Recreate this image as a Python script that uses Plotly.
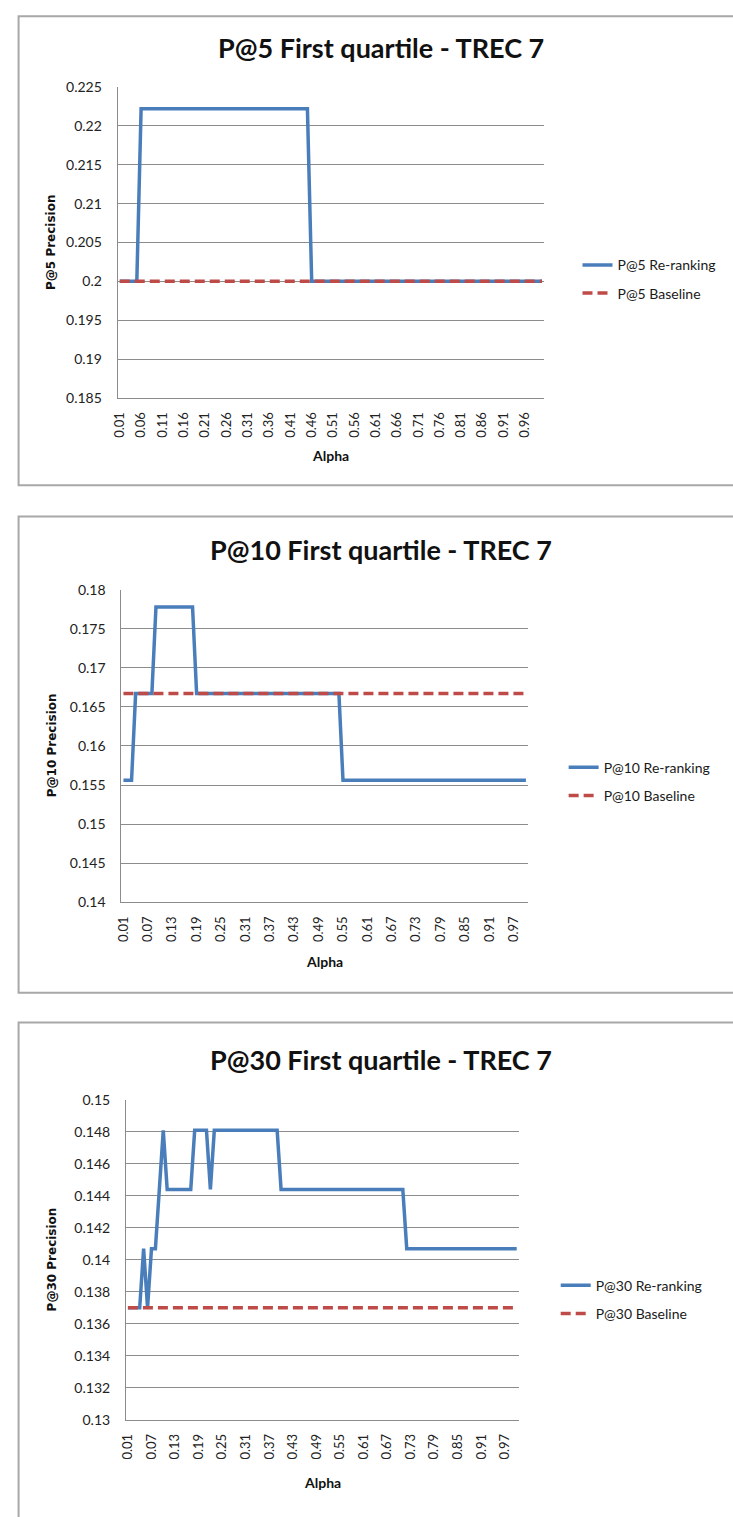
import plotly.graph_objects as go

W, H = 733, 1517

# Alpha categories 0.01 .. 1.00
alpha = [f"{k / 100:.2f}" for k in range(1, 101)]

# P@5 series
p5_rerank = [0.2] * 5 + [0.2222] * 40 + [0.2] * 55
p5_base = [0.2] * 100

# P@10 series
p10_rerank = [0.1556] * 3 + [0.1667] * 5 + [0.1778] * 10 + [0.1667] * 36 + [0.1556] * 46
p10_base = [0.1667] * 100

# P@30 series
p30_rerank = ([0.137] * 4 + [0.1407] + [0.137] + [0.1407] * 2 + [0.1444] + [0.1481]
              + [0.1444] * 7 + [0.1481] * 4 + [0.1444] + [0.1481] * 17
              + [0.1444] * 32 + [0.1407] * 29)
p30_base = [0.137] * 100

# y tick labels
p5_ticks = ["0.185", "0.19", "0.195", "0.2", "0.205", "0.21", "0.215", "0.22", "0.225"]
p10_ticks = ["0.14", "0.145", "0.15", "0.155", "0.16", "0.165", "0.17", "0.175", "0.18"]
p30_ticks = ["0.13", "0.132", "0.134", "0.136", "0.138", "0.14", "0.142", "0.144",
             "0.146", "0.148", "0.15"]

BLUE = "#4a7ebb"
RED = "#be4b48"
GRID = "#8c8c8c"
BOX = "#a8a8a8"
FONT = "Lato"


def fx(p):
    return p / W


def fy(p):
    return 1 - p / H


charts = [
    dict(k="5", rer=p5_rerank, base=p5_base, ticks=p5_ticks, step=5,
         plot=(111.7, 542.3, 79, 393.3), box=(11.7, 7.3, 760, 481.7),
         title_y=39, alpha_y=452, ytitle_y=236, legend=(576, 243)),
    dict(k="10", rer=p10_rerank, base=p10_base, ticks=p10_ticks, step=6,
         plot=(115.5, 526.0, 587.3, 903.3), box=(11.7, 513.3, 760, 995),
         title_y=547, alpha_y=963, ytitle_y=745, legend=(562, 751)),
    dict(k="30", rer=p30_rerank, base=p30_base, ticks=p30_ticks, step=6,
         plot=(120.1, 516.6, 1103.3, 1426.7), box=(11.7, 1025, 760, 1540),
         title_y=1062, alpha_y=1490, ytitle_y=1265, legend=(554, 1275)),
]

fig = go.Figure()
layout = dict(
    width=W, height=H, margin=dict(l=0, r=0, t=0, b=0),
    paper_bgcolor="white", plot_bgcolor="white",
    font=dict(family=FONT, color="#1a1a1a"),
    showlegend=True, shapes=[], annotations=[],
)

for n, c in enumerate(charts, start=1):
    sfx = "" if n == 1 else str(n)
    leg = "legend" if n == 1 else f"legend{n}"
    x0, x1, y0, y1 = c["plot"]

    fig.add_trace(go.Scatter(
        x=alpha, y=c["rer"], mode="lines", name=f"P@{c['k']} Re-ranking",
        line=dict(color=BLUE, width=3.5), xaxis=f"x{sfx}", yaxis=f"y{sfx}",
        legend=leg, legendgroup=f"r{n}", hoverinfo="skip"))
    fig.add_trace(go.Scatter(
        x=alpha, y=c["base"], mode="lines", name=f"P@{c['k']} Baseline",
        line=dict(color=RED, width=3.5, dash="10px,5px"), xaxis=f"x{sfx}",
        yaxis=f"y{sfx}", legend=leg, legendgroup=f"b{n}", hoverinfo="skip"))

    tickvals = [float(t) for t in c["ticks"]]
    layout[f"xaxis{sfx}"] = dict(
        domain=[fx(x0), fx(x1)], anchor=f"y{sfx}", type="category",
        categoryorder="array", categoryarray=alpha, range=[-0.5, len(alpha) - 0.5],
        tickmode="array", tickvals=alpha[::c["step"]], ticktext=alpha[::c["step"]],
        tickangle=-90, tickfont=dict(family=FONT, size=13, color="#222"),
        ticks="", ticklabelstandoff=8, showgrid=False, zeroline=False,
        showline=True, linecolor=GRID, linewidth=1, fixedrange=True)
    layout[f"yaxis{sfx}"] = dict(
        domain=[fy(y1), fy(y0)], anchor=f"x{sfx}",
        range=[tickvals[0], tickvals[-1]], tickmode="array",
        tickvals=tickvals, ticktext=c["ticks"],
        tickfont=dict(family=FONT, size=14, color="#222"),
        ticks="", ticklabelstandoff=12, showgrid=True, gridcolor=GRID,
        gridwidth=1, zeroline=False, showline=True, linecolor=GRID,
        linewidth=1, fixedrange=True)

    lx, ly = c["legend"]
    layout[leg] = dict(
        x=fx(lx), y=fy(ly), xanchor="left", yanchor="top",
        xref="paper", yref="paper", bgcolor="rgba(0,0,0,0)",
        font=dict(family=FONT, size=14, color="#1a1a1a"),
        tracegroupgap=7, itemclick=False, itemdoubleclick=False)

    bx0, by0, bx1, by1 = c["box"]
    layout["shapes"].append(dict(
        type="rect", xref="paper", yref="paper",
        x0=fx(bx0), x1=fx(bx1), y0=fy(by1), y1=fy(by0),
        line=dict(color=BOX, width=2), fillcolor="rgba(0,0,0,0)", layer="below"))

    layout["annotations"] += [
        dict(text=f"<b>P@{c['k']} First quartile - TREC 7</b>", xref="paper",
             yref="paper", x=fx(377.5), y=fy(c["title_y"]), xanchor="center",
             yanchor="middle", showarrow=False,
             font=dict(family=FONT, size=27, color="#111")),
        dict(text="<b>Alpha</b>", xref="paper", yref="paper",
             x=fx((x0 + x1) / 2), y=fy(c["alpha_y"]), xanchor="center",
             yanchor="middle", showarrow=False,
             font=dict(family=FONT, size=14, color="#111")),
        dict(text=f"<b>P@{c['k']} Precision</b>", xref="paper", yref="paper",
             x=fx(45), y=fy(c["ytitle_y"]), xanchor="center", yanchor="middle",
             textangle=-90, showarrow=False,
             font=dict(family="DejaVu Sans", size=12, color="#111")),
    ]

fig.update_layout(**layout)
fig.write_html("out.html")
